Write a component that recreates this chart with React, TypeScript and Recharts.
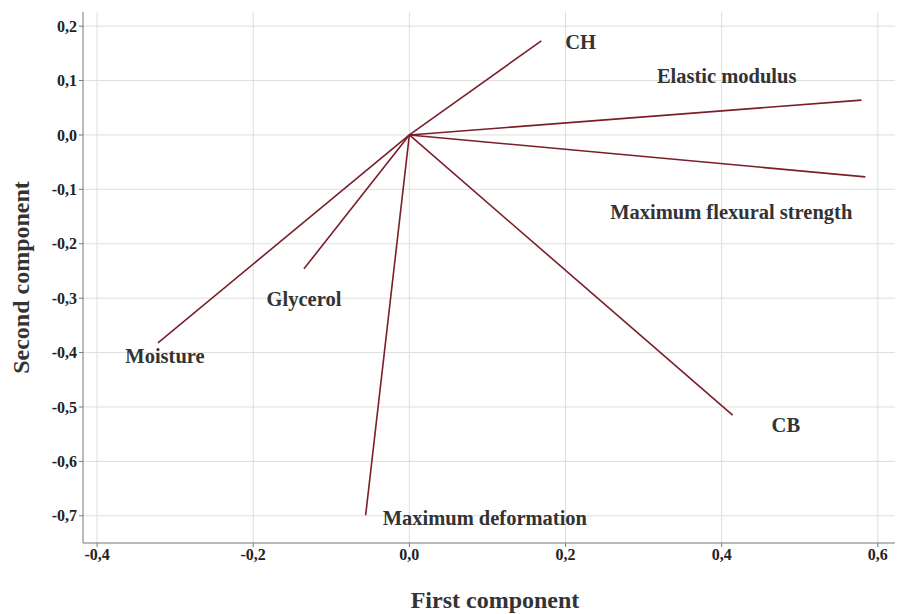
import React from 'react';
import { ComposedChart, Line, XAxis, YAxis, CartesianGrid, Label } from 'recharts';

// loading vectors (first component, second component)
const variables = ['CH', 'Elastic modulus', 'Maximum flexural strength', 'CB', 'Maximum deformation', 'Glycerol', 'Moisture'];
const firstComponent = [0.169, 0.579, 0.584, 0.414, -0.056, -0.135, -0.322];
const secondComponent = [0.173, 0.064, -0.077, -0.515, -0.699, -0.246, -0.382];

const xTicks = [-0.4, -0.2, 0, 0.2, 0.4, 0.6];
const yTicks = [0.2, 0.1, 0, -0.1, -0.2, -0.3, -0.4, -0.5, -0.6, -0.7];

// where each name sits relative to the arrow tip
const labelOffsets: Record<string, { dx: number; dy: number; anchor: 'start' | 'middle' | 'end' }> = {
    'CH': { dx: 24, dy: 1, anchor: 'start' },
    'Elastic modulus': { dx: -65, dy: -24, anchor: 'end' },
    'Maximum flexural strength': { dx: -13, dy: 35, anchor: 'end' },
    'CB': { dx: 39, dy: 10, anchor: 'start' },
    'Maximum deformation': { dx: 17, dy: 3, anchor: 'start' },
    'Glycerol': { dx: 0, dy: 30, anchor: 'middle' },
    'Moisture': { dx: 7, dy: 13, anchor: 'middle' },
};

const FONT = '"Liberation Serif", "Times New Roman", serif';
const LINE_COLOR = '#7a1e2a';

const fmt = (v: number) => v.toFixed(1).replace('.', ',');

export default function App() {
    return (
        <div style={{ position: 'absolute', left: 0, top: 0, background: '#fff' }}>
            <ComposedChart width={897} height={614} margin={{ top: 12, right: 2, bottom: 0, left: 0 }}>
                <CartesianGrid stroke="#dedede" horizontalValues={yTicks} verticalValues={xTicks} />
                <XAxis
                    xAxisId="top"
                    orientation="top"
                    type="number"
                    dataKey="x"
                    domain={[-0.418, 0.622]}
                    height={0}
                    tick={false}
                    tickLine={false}
                    stroke="#777"
                />
                <XAxis
                    type="number"
                    dataKey="x"
                    domain={[-0.418, 0.622]}
                    ticks={xTicks}
                    tickFormatter={fmt}
                    allowDataOverflow
                    height={71}
                    stroke="#777"
                    tickSize={4}
                    tick={{ fill: '#222', fontFamily: FONT, fontWeight: 'bold', fontSize: 16 }}
                >
                    <Label
                        value="First component"
                        position="insideBottom"
                        offset={6}
                        dx={6}
                        style={{ fill: '#333', fontFamily: FONT, fontWeight: 'bold', fontSize: 24 }}
                    />
                </XAxis>
                <YAxis
                    type="number"
                    domain={[-0.75, 0.226]}
                    ticks={yTicks}
                    tickFormatter={fmt}
                    allowDataOverflow
                    width={83}
                    stroke="#777"
                    tickSize={4}
                    tick={{ fill: '#222', fontFamily: FONT, fontWeight: 'bold', fontSize: 16 }}
                >
                    <Label
                        value="Second component"
                        angle={-90}
                        position="insideLeft"
                        offset={20}
                        style={{ textAnchor: 'middle', fill: '#333', fontFamily: FONT, fontWeight: 'bold', fontSize: 24 }}
                    />
                </YAxis>
                {variables.map((name, i) => {
                    const pts = [
                        { x: 0, y: 0 },
                        { x: firstComponent[i], y: secondComponent[i] },
                    ];
                    const off = labelOffsets[name];
                    return (
                        <Line
                            key={name}
                            data={pts}
                            dataKey="y"
                            stroke={LINE_COLOR}
                            strokeWidth={1.6}
                            dot={false}
                            activeDot={false}
                            isAnimationActive={false}
                            label={(p: any) =>
                                p.index === 1 ? (
                                    <text
                                        key={name}
                                        x={p.x + off.dx}
                                        y={p.y + off.dy}
                                        textAnchor={off.anchor}
                                        dominantBaseline="central"
                                        fontFamily={FONT}
                                        fontWeight="bold"
                                        fontSize={20.5}
                                        fill="#333"
                                    >
                                        {name}
                                    </text>
                                ) : (
                                    <g key={name + '-o'} />
                                )
                            }
                        />
                    );
                })}
            </ComposedChart>
        </div>
    );
}
